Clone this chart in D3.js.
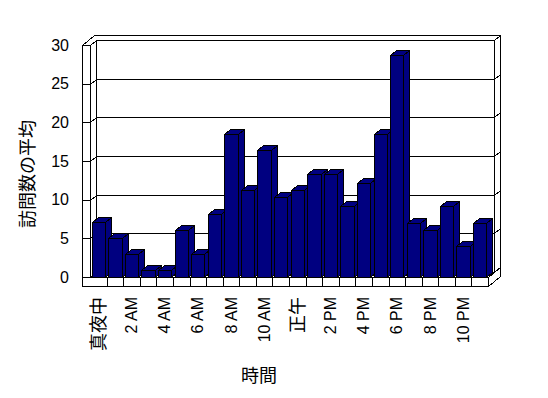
<!DOCTYPE html>
<html>
<head>
<meta charset="utf-8">
<script src="https://cdn.jsdelivr.net/npm/d3@7"></script>
<style>
  body { margin: 0; background: #fff; }
  text { fill: #000; }
</style>
</head>
<body>
<div id="chart"></div>
<script>
// hour of day (category) labels, only every second one is shown
const hourLabels = ['真夜中', '1 AM', '2 AM', '3 AM', '4 AM', '5 AM', '6 AM', '7 AM', '8 AM', '9 AM', '10 AM', '11 AM',
  '正午', '1 PM', '2 PM', '3 PM', '4 PM', '5 PM', '6 PM', '7 PM', '8 PM', '9 PM', '10 PM', '11 PM'];
// average number of visits per hour
const avgVisits = [7.1, 5.0, 3.0, 0.9, 0.9, 6.1, 3.0, 8.1, 18.5, 11.3, 16.4, 10.3,
  11.3, 13.3, 13.3, 9.2, 12.2, 18.5, 28.7, 7.0, 6.1, 9.2, 4.0, 7.0];
const yTicks = [0, 5, 10, 15, 20, 25, 30];
const yTitle = '訪問数の平均';
const xTitle = '時間';

const width = 548;
const height = 398;
const left = 90, right = 488, floorY = 277, topY = 45;
const wallT = 8;   // left wall thickness
const floorT = 9;  // floor thickness
const dx = 6, dy = 5; // one depth step (oblique projection)

const x = d3.scaleBand()
  .domain(d3.range(avgVisits.length))
  .range([left, right])
  .paddingInner(0.2)
  .paddingOuter(0.1);
const y = d3.scaleLinear().domain([0, 30]).range([floorY, topY]);
const step = (right - left) / avgVisits.length;

const svg = d3.select('#chart').append('svg')
  .attr('width', width)
  .attr('height', height)
  .attr('shape-rendering', 'crispEdges');

const pt = (a, b) => `${Math.round(a) + 0.5},${Math.round(b) + 0.5}`;
const poly = (g, pts, fill) => g.append('polygon')
  .attr('points', pts.map(p => pt(p[0], p[1])).join(' '))
  .attr('fill', fill)
  .attr('stroke', '#000')
  .attr('stroke-width', 1);
const line = (g, x1, y1, x2, y2) => g.append('path')
  .attr('d', `M${pt(x1, y1)}L${pt(x2, y2)}`)
  .attr('stroke', '#000')
  .attr('fill', 'none');

// walls and floor
const walls = svg.append('g');
// back wall, front face
poly(walls, [[left + dx, topY - dy], [right + dx, topY - dy], [right + dx, floorY - dy], [left + dx, floorY - dy]], '#fff');
yTicks.forEach(v => line(walls, left + dx, y(v) - dy, right + dx, y(v) - dy));
// back wall, right face
poly(walls, [[right + dx, topY - dy], [right + 2 * dx, topY - 2 * dy], [right + 2 * dx, floorY - 2 * dy], [right + dx, floorY - dy]], '#fff');
yTicks.forEach(v => line(walls, right + dx, y(v) - dy, right + 2 * dx, y(v) - 2 * dy));
// floor top
poly(walls, [[left, floorY], [right, floorY], [right + dx, floorY - dy], [left + dx, floorY - dy]], '#fff');
// left wall inner face
poly(walls, [[left, topY], [left + dx, topY - dy], [left + dx, floorY - dy], [left, floorY]], '#fff');
yTicks.forEach(v => line(walls, left, y(v), left + dx, y(v) - dy));
// top of walls
poly(walls, [[left - wallT, topY], [left, topY], [left + dx, topY - dy], [right + dx, topY - dy],
  [right + 2 * dx, topY - 2 * dy], [left - wallT + 2 * dx, topY - 2 * dy]], '#fff');
// front faces of left wall and floor
poly(walls, [[left - wallT, topY], [left, topY], [left, floorY], [right, floorY],
  [right, floorY + floorT], [left - wallT, floorY + floorT]], '#fff');
yTicks.forEach(v => line(walls, left - wallT, y(v), left, y(v)));
d3.range(1, avgVisits.length).forEach(k => line(walls, left + k * step, floorY, left + k * step, floorY + floorT));
// floor right face
poly(walls, [[right, floorY], [right + 2 * dx, floorY - 2 * dy], [right + 2 * dx, floorY + floorT - 2 * dy], [right, floorY + floorT]], '#fff');

// bars, left to right so the next front face covers the previous side
const bars = svg.append('g');
avgVisits.forEach((v, i) => {
  const x0 = x(i), x1 = x(i) + x.bandwidth(), yt = y(v), yb = floorY;
  const g = bars.append('g');
  poly(g, [[x1, yt], [x1 + dx, yt - dy], [x1 + dx, yb - dy], [x1, yb]], '#000080');
  poly(g, [[x0, yt], [x0 + dx, yt - dy], [x1 + dx, yt - dy], [x1, yt]], '#000080');
  poly(g, [[x0, yt], [x1, yt], [x1, yb], [x0, yb]], '#000080');
});

// y tick labels
svg.append('g')
  .selectAll('text')
  .data(yTicks)
  .join('text')
  .attr('x', 69)
  .attr('y', d => y(d))
  .attr('dy', '0.35em')
  .attr('text-anchor', 'end')
  .attr('font-family', '"Liberation Sans", Arial, sans-serif')
  .attr('font-size', 16)
  .text(d => d);

// x tick labels (every second hour), rotated
const isCjk = s => /[\u3000-\u9fff]/.test(s);
svg.append('g')
  .selectAll('text')
  .data(hourLabels.map((d, i) => ({ d, i })).filter(o => o.i % 2 === 0))
  .join('text')
  .attr('transform', o => `translate(${x(o.i) + x.bandwidth() / 2},297) rotate(-90)`)
  .attr('dy', '0.35em')
  .attr('text-anchor', 'end')
  .attr('font-family', o => isCjk(o.d) ? '"Noto Sans CJK JP", sans-serif' : '"Liberation Sans", Arial, sans-serif')
  .attr('font-size', o => isCjk(o.d) ? 18 : 16)
  .text(o => o.d);

// axis titles
svg.append('text')
  .attr('transform', 'translate(28,174) rotate(-90)')
  .attr('dy', '0.35em')
  .attr('text-anchor', 'middle')
  .attr('font-family', '"Noto Sans CJK JP", sans-serif')
  .attr('font-size', 18)
  .text(yTitle);

svg.append('text')
  .attr('x', 259)
  .attr('y', 376)
  .attr('dy', '0.35em')
  .attr('text-anchor', 'middle')
  .attr('font-family', '"Noto Sans CJK JP", sans-serif')
  .attr('font-size', 18)
  .text(xTitle);
</script>
</body>
</html>
